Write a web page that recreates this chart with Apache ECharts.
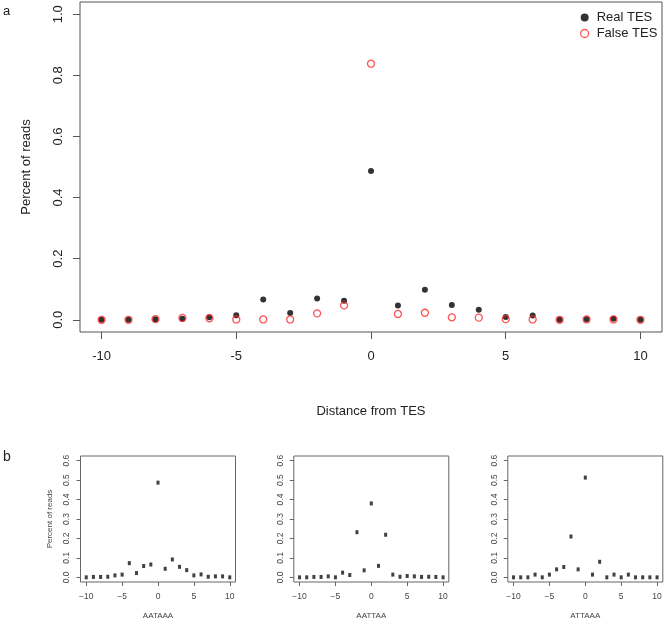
<!DOCTYPE html>
<html>
<head>
<meta charset="utf-8">
<script src="https://cdn.jsdelivr.net/npm/echarts@6/dist/echarts.min.js"></script>
<style>
html,body{margin:0;padding:0;background:#fff;}
#c{width:666px;height:621px;}
</style>
</head>
<body>
<div id="c"></div>
<script>
// ---- data ----
var distances = [-10,-9,-8,-7,-6,-5,-4,-3,-2,-1,0,1,2,3,4,5,6,7,8,9,10];
var realTES  = [0.000,0.000,0.002,0.003,0.008,0.015,0.066,0.022,0.070,0.062,0.487,0.047,0.098,0.048,0.033,0.009,0.014,0.000,0.002,0.003,0.000];
var falseTES = [0.000,0.000,0.002,0.006,0.005,0.001,0.001,0.001,0.021,0.047,0.838,0.019,0.023,0.008,0.007,0.002,0.001,0.000,0.001,0.001,0.000];
var motifNames = ['AATAAA','AATTAA','ATTAAA'];
var motifAATAAA = [0.000,0.002,0.002,0.003,0.010,0.014,0.073,0.022,0.058,0.066,0.487,0.044,0.092,0.054,0.037,0.010,0.015,0.003,0.005,0.005,0.000];
var motifAATTAA = [0.000,0.000,0.002,0.002,0.005,0.000,0.024,0.012,0.232,0.036,0.380,0.059,0.219,0.014,0.003,0.007,0.005,0.002,0.003,0.002,0.000];
var motifATTAAA = [0.000,0.000,0.000,0.014,0.000,0.014,0.041,0.053,0.210,0.041,0.513,0.014,0.080,0.000,0.014,0.000,0.014,0.000,0.000,0.000,0.000];
var xTicks = [-10,-5,0,5,10];
var mainYTicks = [0,0.2,0.4,0.6,0.8,1.0];
var smallYTicks = [0,0.1,0.2,0.3,0.4,0.5,0.6];

function pairs(ys){ return distances.map(function(x,i){ return [x, ys[i]]; }); }

var FONT = 'Liberation Sans';
var boxColor = '#555';
var smallText = '#444';

var grids = [
  {left:80, top:2, width:582, height:330, show:true, borderColor:boxColor, borderWidth:1, containLabel:false},
  {left:80.5, top:456, width:155, height:128, show:true, borderColor:'#666', borderWidth:1},
  {left:293.8, top:456, width:155, height:128, show:true, borderColor:'#666', borderWidth:1},
  {left:507.8, top:456, width:155, height:128, show:true, borderColor:'#666', borderWidth:1}
];

var xAxes = [{
  gridIndex:0, type:'value', min:-10.8, max:10.8, position:'bottom',
  name:'Distance from TES', nameLocation:'middle', nameGap:73,
  nameTextStyle:{fontFamily:FONT, fontSize:13, color:'#222'},
  axisLine:{show:false, onZero:false}, splitLine:{show:false},
  axisTick:{show:true, inside:false, length:7, customValues:xTicks, lineStyle:{color:boxColor, width:1}},
  axisLabel:{customValues:xTicks, margin:18, fontFamily:FONT, fontSize:13, color:'#222'}
}];
var yAxes = [{
  gridIndex:0, type:'value', min:-0.04, max:1.04, position:'left',
  name:'Percent of reads', nameLocation:'middle', nameGap:47,
  nameTextStyle:{fontFamily:FONT, fontSize:13, color:'#222'},
  axisLine:{show:false, onZero:false}, splitLine:{show:false},
  axisTick:{show:true, inside:false, length:7, customValues:mainYTicks, lineStyle:{color:boxColor, width:1}},
  axisLabel:{customValues:mainYTicks, rotate:90, margin:15, fontFamily:FONT, fontSize:13, color:'#222',
    formatter:function(v){ return v.toFixed(1); }}
}];
for (var k=0;k<3;k++){
  xAxes.push({
    gridIndex:k+1, type:'value', min:-10.8, max:10.8, position:'bottom',
    name:motifNames[k], nameLocation:'middle', nameGap:30,
    nameTextStyle:{fontFamily:FONT, fontSize:8, color:smallText},
    axisLine:{show:false, onZero:false}, splitLine:{show:false},
    axisTick:{show:true, inside:false, length:4, customValues:xTicks, lineStyle:{color:'#666', width:1}},
    axisLabel:{customValues:xTicks, margin:10, fontFamily:FONT, fontSize:8.5, color:smallText,
      formatter:function(v){ return v<0 ? '\u2212'+Math.abs(v) : String(v); }}
  });
  yAxes.push({
    gridIndex:k+1, type:'value', min:-0.024, max:0.624, position:'left',
    name: k===0 ? 'Percent of reads' : '', nameLocation:'middle', nameGap:27,
    nameTextStyle:{fontFamily:FONT, fontSize:8, color:smallText},
    axisLine:{show:false, onZero:false}, splitLine:{show:false},
    axisTick:{show:true, inside:false, length:4, customValues:smallYTicks, lineStyle:{color:'#666', width:1}},
    axisLabel:{customValues:smallYTicks, rotate:90, margin:9, fontFamily:FONT, fontSize:8.5, color:smallText,
      formatter:function(v){ return v.toFixed(1); }}
  });
}

var motifs = [motifAATAAA, motifAATTAA, motifATTAAA];
var series = [
  {name:'Real TES', type:'scatter', xAxisIndex:0, yAxisIndex:0, data:pairs(realTES),
   symbol:'circle', symbolSize:6, itemStyle:{color:'#000'}, z:2},
  {name:'False TES', type:'scatter', xAxisIndex:0, yAxisIndex:0, data:pairs(falseTES),
   symbol:'circle', symbolSize:7, itemStyle:{color:'rgba(0,0,0,0)', borderColor:'#ff2828', borderWidth:1.3}, z:3}
];
motifs.forEach(function(m,k){
  series.push({name:motifNames[k], type:'scatter', xAxisIndex:k+1, yAxisIndex:k+1, data:pairs(m),
    symbol:'rect', symbolSize:[3,4], itemStyle:{color:'#111'}});
});

var chart = echarts.init(document.getElementById('c'), null, {renderer:'canvas'});
chart.setOption({
  animation:false,
  backgroundColor:'#fff',
  grid:grids, xAxis:xAxes, yAxis:yAxes, series:series,
  legend:{
    data:[{name:'Real TES', icon:'circle', itemStyle:{color:'#000'}},
          {name:'False TES', icon:'circle', itemStyle:{color:'rgba(0,0,0,0)', borderColor:'#ff2828', borderWidth:1.3}}],
    orient:'vertical', left:580, top:11, padding:0, itemWidth:8, itemHeight:8, itemGap:3,
    textStyle:{fontFamily:FONT, fontSize:13, color:'#222', padding:[0,0,0,3]},
    selectedMode:false
  },
  graphic:[
    {type:'text', left:3, top:5, style:{text:'a', font:'13px "Liberation Sans"', fill:'#222'}},
    {type:'text', left:3, top:450, style:{text:'b', font:'14px "Liberation Sans"', fill:'#222'}}
  ]
});
</script>
</body>
</html>
